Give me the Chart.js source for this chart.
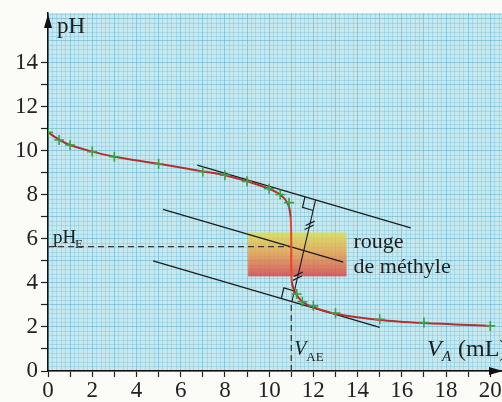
<!DOCTYPE html>
<html>
<head>
<meta charset="utf-8">
<script src="https://cdn.jsdelivr.net/npm/chart.js"></script>
<style>
  html, body { margin: 0; padding: 0; background: #fbfbf7; }
  canvas { display: block; }
</style>
</head>
<body>
<canvas id="chart" width="502" height="402"></canvas>
<script>
// measured points (green crosses)
const volumes = [0, 0.5, 1, 2, 3, 5, 7, 8, 9, 10, 10.5, 10.9, 11.25, 11.5, 12, 13, 15, 17, 20];
const phMeasured = [10.85, 10.5, 10.27, 9.97, 9.74, 9.42, 9.07, 8.9, 8.62, 8.28, 8.02, 7.65, 3.5, 3.15, 2.96, 2.63, 2.35, 2.2, 2.05];

// red smoothed curve, including the jump at equivalence
const curveVolumes = [0, 0.5, 1, 2, 3, 5, 7, 8, 9, 10, 10.5, 10.85, 10.97, 11.0, 11.0, 11.02, 11.1, 11.25, 11.5, 12, 13, 15, 17, 20];
const curvePh = [10.85, 10.52, 10.27, 9.97, 9.74, 9.42, 9.07, 8.9, 8.62, 8.28, 8.02, 7.6, 7.0, 6.0, 4.8, 4.1, 3.75, 3.45, 3.15, 2.9, 2.6, 2.32, 2.18, 2.05];

// parallel tangents method
const upperTangentV = [6.75, 16.4];
const upperTangentPh = [9.36, 6.51];
const middleLineV = [5.2, 13.35];
const middleLinePh = [7.35, 4.95];
const lowerTangentV = [4.75, 15.0];
const lowerTangentPh = [5.0, 1.98];
const perpV = [11.03, 12.1];
const perpPh = [3.15, 7.78];

// equivalence point
const equivVolume = 11.0;
const equivPh = 5.65;
const equivFootPh = 3.15;

// methyl red zone
const zoneVolumes = [9.05, 13.5];
const zonePh = [4.3, 6.3];

const xTickLabels = [0, 2, 4, 6, 8, 10, 12, 14, 16, 18, 20];
const yTickLabels = [0, 2, 4, 6, 8, 10, 12, 14];
const xMax = 20.53;
const yMax = 16.27;

const pts = (xs, ys) => xs.map((v, i) => ({ x: v, y: ys[i] }));
const serif = 'Liberation Serif';
const isWhole = v => Math.abs(v - Math.round(v)) < 1e-6;
const gridColor = ctx => isWhole(ctx.tick.value) ? 'rgba(95,175,205,0.55)' : 'rgba(120,190,212,0.38)';
const noPad = s => { s.paddingLeft = 0; s.paddingRight = 0; s.paddingTop = 0; s.paddingBottom = 0; };

function line(data, extra) {
  return Object.assign({
    type: 'line', data: data, borderColor: '#1c1c1c', borderWidth: 1.3,
    pointRadius: 0, fill: false, tension: 0
  }, extra || {});
}

const decor = {
  id: 'decor',
  beforeDraw(chart) {
    const { ctx, chartArea: a } = chart;
    ctx.save();
    ctx.fillStyle = '#c6e9f0';
    ctx.fillRect(a.left, a.top, a.right - a.left, a.bottom - a.top);
    ctx.restore();
  },
  beforeDatasetsDraw(chart) {
    const { ctx, scales: { x, y } } = chart;
    ctx.save();
    const x0 = x.getPixelForValue(zoneVolumes[0]), x1 = x.getPixelForValue(zoneVolumes[1]);
    const y0 = y.getPixelForValue(zonePh[1]), y1 = y.getPixelForValue(zonePh[0]);
    const g = ctx.createLinearGradient(0, y0, 0, y1);
    g.addColorStop(0, 'rgba(222,222,80,0.82)');
    g.addColorStop(0.45, 'rgba(232,160,70,0.82)');
    g.addColorStop(1, 'rgba(215,70,75,0.85)');
    ctx.fillStyle = g;
    ctx.fillRect(x0, y0, x1 - x0, y1 - y0);
    ctx.restore();
  },
  afterDraw(chart) {
    const { ctx, chartArea: a, scales: { x, y } } = chart;
    const px = (v, p) => ({ x: x.getPixelForValue(v), y: y.getPixelForValue(p) });
    const unit = (p, q) => { const dx = q.x - p.x, dy = q.y - p.y, l = Math.hypot(dx, dy); return { x: dx / l, y: dy / l }; };
    ctx.save();
    ctx.strokeStyle = '#1c1c1c';
    ctx.lineWidth = 1.2;

    // right angle marks
    const pLow = px(perpV[0], perpPh[0]), pUp = px(perpV[1], perpPh[1]);
    const square = (f, t, n, s) => {
      ctx.beginPath();
      ctx.moveTo(f.x + s * t.x, f.y + s * t.y);
      ctx.lineTo(f.x + s * t.x + s * n.x, f.y + s * t.y + s * n.y);
      ctx.lineTo(f.x + s * n.x, f.y + s * n.y);
      ctx.stroke();
    };
    square(pUp, unit(px(upperTangentV[1], upperTangentPh[1]), px(upperTangentV[0], upperTangentPh[0])), unit(pUp, pLow), 11);
    square(pLow, unit(px(lowerTangentV[1], lowerTangentPh[1]), px(lowerTangentV[0], lowerTangentPh[0])), unit(pLow, pUp), 11);

    // equal-length marks
    const d = unit(pLow, pUp);
    [0.25, 0.75].forEach(f => {
      const cx = pLow.x + (pUp.x - pLow.x) * f, cy = pLow.y + (pUp.y - pLow.y) * f;
      [-2, 2].forEach(o => {
        const mx = cx + d.x * o, my = cy + d.y * o;
        ctx.beginPath();
        ctx.moveTo(mx - 4.5, my + 2.2);
        ctx.lineTo(mx + 4.5, my - 2.2);
        ctx.stroke();
      });
    });

    // axis arrows
    ctx.fillStyle = '#111';
    ctx.beginPath();
    ctx.moveTo(a.left, a.top + 1);
    ctx.lineTo(a.left - 4, a.top + 15);
    ctx.lineTo(a.left + 4, a.top + 15);
    ctx.closePath();
    ctx.fill();
    ctx.beginPath();
    ctx.moveTo(a.right + 1, a.bottom);
    ctx.lineTo(a.right - 13, a.bottom - 4);
    ctx.lineTo(a.right - 13, a.bottom + 4);
    ctx.closePath();
    ctx.fill();

    // texts
    ctx.fillStyle = '#1e1e1e';
    ctx.textBaseline = 'alphabetic';
    ctx.textAlign = 'left';
    ctx.font = '23px "' + serif + '"';
    ctx.fillText('pH', a.left + 9, 33);

    const e = px(0, equivPh);
    ctx.font = '19px "' + serif + '"';
    ctx.fillText('pH', e.x + 5, e.y - 4);
    ctx.font = '13px "' + serif + '"';
    ctx.fillText('E', e.x + 27, e.y + 1);

    const v = px(equivVolume, 0);
    ctx.font = 'italic 20px "' + serif + '"';
    ctx.fillText('V', v.x + 3, v.y - 16);
    ctx.font = '13px "' + serif + '"';
    ctx.fillText('AE', v.x + 15, v.y - 10);

    ctx.font = 'italic 24px "' + serif + '"';
    ctx.fillText('V', 427, a.bottom - 15);
    ctx.font = 'italic 15px "' + serif + '"';
    ctx.fillText('A', 442, a.bottom - 10);
    ctx.font = '24px "' + serif + '"';
    ctx.fillText('(mL)', 458, a.bottom - 15);

    const z = px(zoneVolumes[1], zonePh[1]);
    ctx.font = '22px "' + serif + '"';
    ctx.fillText('rouge', z.x + 7, 248);
    ctx.fillText('de méthyle', z.x + 7, 273);
    ctx.restore();
  }
};

new Chart(document.getElementById('chart'), {
  type: 'line',
  data: {
    datasets: [
      {
        type: 'scatter', data: pts(volumes, phMeasured), pointStyle: 'cross',
        pointRadius: 5, pointBorderWidth: 1.6, borderColor: '#3f9c48', backgroundColor: '#3f9c48', showLine: false
      },
      line(pts(curveVolumes, curvePh), {
        borderWidth: 2, tension: 0.3,
        segment: {
          borderColor: c => (c.p0.parsed.x >= 10.9 && c.p1.parsed.x <= 11.05) ? '#e2472c' : '#b3302c'
        }
      }),
      line(pts(upperTangentV, upperTangentPh)),
      line(pts(middleLineV, middleLinePh)),
      line(pts(lowerTangentV, lowerTangentPh)),
      line(pts(perpV, perpPh), { borderWidth: 1.1 }),
      line([{ x: 0, y: equivPh }, { x: equivVolume, y: equivPh }], { borderColor: '#3a3a3a', borderWidth: 1.3, borderDash: [6, 4] }),
      line([{ x: equivVolume, y: 0 }, { x: equivVolume, y: equivFootPh }], { borderColor: '#3a3a3a', borderWidth: 1.3, borderDash: [6, 4] })
    ]
  },
  options: {
    responsive: false,
    animation: false,
    layout: { autoPadding: false, padding: { top: 13, right: 0, left: 0, bottom: 0 } },
    plugins: { legend: { display: false }, tooltip: { enabled: false } },
    scales: {
      x: {
        type: 'linear', position: 'bottom', min: 0, max: xMax,
        afterFit: s => { s.height = 31; noPad(s); },
        ticks: {
          stepSize: 1, autoSkip: false, includeBounds: false, maxRotation: 0, padding: 0,
          color: '#222', font: { family: serif, size: 23 },
          callback: v => xTickLabels.includes(v) ? String(v) : ''
        },
        grid: { drawOnChartArea: false, drawTicks: true, tickLength: 6, tickColor: '#222', tickWidth: 1.2 },
        border: { display: true, color: '#111', width: 1.5 }
      },
      y: {
        type: 'linear', position: 'left', min: 0, max: yMax,
        afterFit: s => { s.width = 48; noPad(s); },
        ticks: {
          stepSize: 1, autoSkip: false, includeBounds: false, padding: 3,
          color: '#222', font: { family: serif, size: 23 },
          callback: v => yTickLabels.includes(v) ? String(v) : ''
        },
        grid: {
          drawOnChartArea: false, drawTicks: true, tickLength: 7, tickWidth: 1.2,
          tickColor: c => c.tick.value > 14 ? 'rgba(0,0,0,0)' : '#222'
        },
        border: { display: true, color: '#111', width: 1.5 }
      },
      xGrid: {
        type: 'linear', position: 'top', min: 0, max: xMax,
        afterFit: s => { s.height = 0; noPad(s); },
        ticks: { display: false, stepSize: 0.2, autoSkip: false, includeBounds: false },
        grid: { drawTicks: false, color: gridColor, lineWidth: 1 },
        border: { display: false }
      },
      yGrid: {
        type: 'linear', position: 'right', min: 0, max: yMax,
        afterFit: s => { s.width = 0; noPad(s); },
        ticks: { display: false, stepSize: 0.2, autoSkip: false, includeBounds: false },
        grid: { drawTicks: false, color: gridColor, lineWidth: 1 },
        border: { display: false }
      }
    }
  },
  plugins: [decor]
});
</script>
</body>
</html>
